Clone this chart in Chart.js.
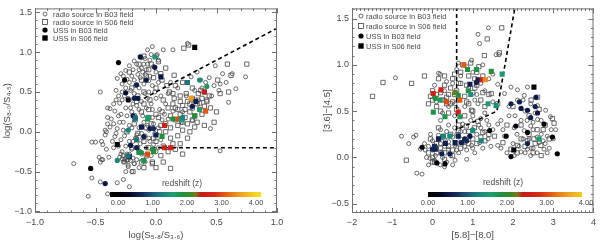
<!DOCTYPE html>
<html><head><meta charset="utf-8">
<script src="https://cdn.jsdelivr.net/npm/chart.js@4.4.1/dist/chart.umd.min.js"></script>
<style>
html,body{margin:0;padding:0;background:#fff;overflow:hidden}
#wrap{position:relative;width:600px;height:241px}
canvas{position:absolute;top:0}
</style></head>
<body><div id="wrap">
<canvas id="c1" width="300" height="241" style="left:0;width:300px;height:241px"></canvas>
<canvas id="c2" width="300" height="241" style="left:300px;width:300px;height:241px"></canvas>
</div>
<script>
// ---------- tick values ----------
const leftXTicks = [-1.0,-0.5,0.0,0.5,1.0];
const leftYTicks = [-1.0,-0.5,0.0,0.5,1.0,1.5];
const rightXTicks = [-2,-1,0,1,2,3,4];
const rightYTicks = [-0.5,0.0,0.5,1.0,1.5];
const zTicks = [0,1,2,3,4];
const seriesLabels = ['radio source in B03 field','radio source in S06 field','USS in B03 field','USS in S06 field'];

// ---------- selection wedges ----------
const leftLacyDiag = [[-0.1,0.42],[1.0,1.3]];
const leftLacyHoriz = [[-0.1,-0.2],[1.0,-0.2]];
const rightStern = [[0.6,1.7],[0.6,0.3],[1.6,0.5],[2.08,1.7]];

// ---------- left panel: log(S8.0/S4.5) vs log(S5.8/S3.6) ----------
const leftB03 = [[-0.56,-0.81],[-0.68,-0.40],[-0.53,-0.58],[-0.46,-0.63],[-0.40,-0.78],[-0.32,-0.64],[-0.22,-0.69],[-0.27,-0.60],[-0.46,0.50],[-0.33,0.52],[-0.32,0.67],[-0.38,0.29],[-0.34,0.26],[-0.40,0.18],[-0.37,0.16],[-0.40,0.10],[-0.42,0.02],[-0.45,-0.12],[-0.50,-0.13],[-0.41,-0.22],[-0.47,-0.32],[-0.44,-0.35],[-0.39,-0.32],[-0.35,-0.20],[-0.34,-0.06],[-0.32,0.04],[-0.30,0.36],[-0.23,0.42],[-0.25,0.77],[-0.29,0.73],[-0.22,0.83],[-0.18,0.89],[-0.12,0.93],[-0.07,1.03],[-0.03,1.07],[0.01,0.97],[0.06,1.03],[0.14,1.03],[0.26,1.11],[0.29,0.69],[0.34,0.75],[0.37,0.65],[0.49,0.83],[0.55,0.73],[0.53,0.60],[0.63,0.73],[0.66,0.54],[0.74,0.69],[0.60,0.37],[0.45,0.04],[0.53,-0.24],[0.30,0.14],[0.21,0.12],[-0.23,-0.44],[-0.25,-0.50],[-0.18,-0.40],[-0.11,-0.36],[-0.44,-0.16],[-0.45,-0.35],[-0.53,-0.13],[-0.41,0.0],[-0.38,0.06],[-0.42,-0.04],[-0.40,0.30],[-0.29,0.22],[-0.30,0.12],[-0.27,0.02],[-0.46,-0.38],[-0.20,-0.50],
[-0.28,0.60],[-0.25,0.55],[-0.22,0.62],[-0.20,0.70],[-0.18,0.65],[-0.15,0.72],[-0.12,0.80],[-0.10,0.85],[-0.08,0.78],[-0.05,0.90],[-0.02,0.82],[0.00,0.75],[-0.26,0.45],[-0.22,0.40],[-0.18,0.48],[-0.14,0.55],[-0.10,0.60],[-0.06,0.50],[-0.03,0.58],[0.02,0.62],[-0.25,0.30],[-0.20,0.25],[-0.16,0.33],[-0.12,0.38],[-0.08,0.30],[-0.04,0.35],[0.00,0.42],[0.03,0.28],[-0.27,0.12],[-0.22,0.08],[-0.18,0.15],[-0.14,0.05],[-0.10,0.12],[-0.06,0.02],[-0.02,0.10],[0.02,0.05],[-0.26,-0.05],[-0.22,-0.12],[-0.17,-0.08],[-0.13,-0.15],[-0.09,-0.05],[-0.05,-0.12],[-0.01,-0.02],[0.04,-0.10],[-0.28,-0.25],[-0.24,-0.30],[-0.20,-0.22],[-0.16,-0.35],[-0.12,-0.28],[-0.08,-0.20],[-0.04,-0.30],[0.00,-0.25],[-0.27,-0.38],[-0.23,-0.42],[-0.19,-0.33],[-0.30,-0.32],[-0.26,-0.35],[-0.21,-0.36],[-0.24,-0.28],[-0.22,-0.32],[-0.18,-0.40],[-0.27,0.70],[-0.24,0.66],[-0.21,0.52],[-0.17,0.58],[-0.13,0.68],[-0.09,0.72],[-0.06,0.64],[-0.16,0.85],[-0.14,0.78],[-0.09,0.92],[-0.04,0.97],[-0.28,0.40],[-0.24,0.20],[-0.19,0.35],[-0.11,0.20],[-0.07,0.42],[-0.29,-0.10],[-0.25,-0.18],[-0.15,-0.20],[-0.11,-0.08],[-0.03,0.18],[0.05,0.15],[0.08,0.35],[0.10,0.48],[0.12,0.62],[0.18,0.55],[0.22,0.25],[0.25,0.45],[0.32,0.52],[0.38,0.55],[0.41,0.62],[0.46,0.45],[0.48,0.58],[0.44,0.68],[0.52,0.52],[0.58,0.62],[0.35,0.40],
[-0.27,-0.30],[-0.25,-0.33],[-0.23,-0.35],[-0.26,-0.38],[-0.28,-0.34],[-0.24,-0.36],[-0.22,-0.28],[-0.29,-0.28],[-0.20,0.05],[-0.16,-0.04],[-0.12,-0.02],[-0.07,0.08],[-0.03,0.28],[-0.14,0.28],[-0.21,0.30],[-0.17,0.42],[-0.09,0.48],[-0.05,0.70],[-0.11,0.75],[-0.19,0.78],[-0.07,0.85],[0.02,0.90],[-0.01,0.50],[0.04,0.45],[-0.28,0.50],[-0.31,0.45],[-0.33,0.40],[-0.35,0.35],[-0.31,0.20],[-0.35,0.10],[-0.33,-0.02],[-0.36,-0.12],[-0.31,-0.18],[-0.19,-0.12],[-0.06,-0.08],[-0.02,-0.16],[0.02,-0.20],[-0.09,-0.38],[-0.14,-0.45],[0.07,0.22],[0.10,0.16],[0.14,0.26]];

const leftS06 = [[0.23,1.05],[0.27,1.09],[0.15,0.71],[0.04,0.73],[0.11,0.50],[0.59,0.85],[0.75,0.85],[0.62,0.71],[0.51,0.65],[0.60,0.50],[0.48,0.12],[0.40,0.08],[0.32,0.06],[0.26,-0.08],[0.22,-0.28],[0.12,-0.46],[-0.19,-0.50],[-0.03,-0.38],[0.42,0.40],[0.37,0.52],[0.53,0.48],[0.45,0.30],[0.50,0.25],
[0.10,0.30],[0.14,0.35],[0.18,0.28],[0.22,0.33],[0.26,0.38],[0.30,0.30],[0.34,0.35],[0.38,0.42],[0.42,0.38],[0.12,0.20],[0.16,0.15],[0.20,0.22],[0.24,0.18],[0.28,0.25],[0.32,0.20],[0.36,0.28],[0.40,0.32],[0.44,0.45],[0.15,0.42],[0.20,0.45],[0.25,0.48],[0.30,0.42],[0.35,0.48],[0.40,0.50],[0.08,0.10],[0.12,0.05],[0.18,0.08],[0.22,0.02],[0.26,0.10],[0.05,0.25],[0.06,0.40],[0.02,0.18],
[-0.20,0.55],[-0.15,0.45],[-0.10,0.50],[-0.05,0.40],[0.00,0.55],[-0.12,0.65],[-0.08,0.70],[-0.02,0.68],[-0.18,0.20],[-0.12,0.25],[-0.06,0.18],[0.00,0.22],[-0.15,-0.02],[-0.08,0.05],[-0.02,-0.08],[0.03,0.00],[-0.20,-0.20],[-0.14,-0.25],[-0.08,-0.30],[-0.02,-0.22],[0.04,-0.30],[-0.03,-0.40],[-0.12,-0.38],[0.06,-0.18],[0.10,-0.25],[0.14,-0.15],[0.18,-0.05],[0.08,0.00],[0.12,-0.08],
[-0.04,0.85],[0.02,0.88],[0.08,0.80],[-0.10,0.95],[0.05,0.65],[0.09,0.58],[-0.22,0.75],[-0.18,0.10],[-0.24,0.00],[-0.10,-0.45],[0.00,-0.45],[0.06,-0.38],[0.16,-0.22],[0.20,-0.15],[0.28,0.00],[0.34,0.12],[0.30,0.55],[0.16,0.58],[0.22,0.62],
[0.16,0.30],[0.20,0.38],[0.24,0.28],[0.28,0.35],[0.32,0.40],[0.36,0.36],[0.22,0.12],[0.30,0.15],[0.38,0.22],[0.14,0.48],[-0.06,0.28],[-0.10,0.35],[-0.16,0.38],[-0.04,0.10],[-0.10,-0.12],[-0.16,-0.10],[-0.06,-0.20],[0.00,-0.12],[0.04,0.08],[-0.14,0.85],[-0.06,0.78],[0.00,0.95]];

// [x, y, redshift]
const leftUSSB03 = [[-0.31,0.87,0.1],[-0.13,0.94,0.5],[-0.01,0.81,0.5],[-0.26,0.65,0.1],[-0.16,0.59,0.6],[-0.08,0.65,0.5],[-0.25,0.49,0.4],[-0.18,0.42,0.6],[-0.15,0.42,0.5],[-0.23,0.40,0.3],[-0.19,0.20,0.6],[-0.17,0.18,1.1],[-0.07,0.18,1.6],[-0.23,0.02,1.3],[-0.12,0.06,0.6],[-0.05,0.04,0.6],[-0.02,0.04,0.7],[-0.16,-0.10,1.2],[-0.10,-0.06,0.6],[-0.21,-0.17,0.5],[-0.16,-0.20,0.6],[-0.23,-0.30,1.2],[-0.32,-0.36,1.3],[-0.12,-0.26,1.8],[-0.54,-0.46,0.1],[-0.42,-0.65,0.5],[-0.03,-0.22,1.9],[0.22,0.18,1.3],[0.30,0.32,0.6],[0.36,0.65,1.4],[0.42,0.57,1.7],[0.36,0.28,1.6],[-0.01,0.94,1.5]];
const leftUSSS06 = [[0.32,1.06,0.0],[0.04,0.69,0.5],[-0.32,-0.16,0.1],[0.26,0.62,1.2],[0.40,0.50,2.5],[0.29,0.42,3.5],[0.33,0.38,0.6],[0.41,0.26,3.1],[0.32,0.20,1.9],[0.18,0.16,3.0],[0.14,0.16,1.9],[0.07,0.08,2.6],[0.05,-0.06,1.9],[0.00,-0.04,0.6],[-0.07,0.16,1.8],[0.07,-0.20,2.6],[0.12,-0.20,2.7],[-0.14,-0.26,1.8],[-0.10,-0.36,1.8],[-0.22,-0.31,0.7],[-0.07,-0.28,3.0],[-0.02,-0.25,1.9],[-0.12,0.06,0.6],[-0.17,0.16,1.3],[0.21,0.15,1.5]];

// ---------- right panel: [3.6]-[4.5] vs [5.8]-[8.0] ----------
const rightB03 = [[-0.92,0.86],[-0.77,0.23],[-0.47,0.22],[-0.41,0.24],[-0.59,0.15],[-0.39,-0.17],[-0.26,-0.18],[0.15,0.91],[1.13,1.33],[1.39,1.40],[1.17,1.23],[1.58,1.11],[1.65,1.11],[1.95,0.76],[2.11,0.73],[2.28,0.67],[2.36,0.76],[2.11,0.62],[2.44,0.58],[2.61,0.56],[2.81,0.51],[2.93,0.44],[2.61,0.41],[2.44,0.34],[2.28,0.29],[2.03,0.32],[1.79,0.23],[1.62,0.13],[1.38,0.20],[1.17,0.16],[0.97,0.13],[0.76,0.16],[0.56,0.13],[0.39,0.09],[0.23,0.06],[0.07,0.02],[-0.06,-0.01],[0.19,-0.08],[0.35,-0.05],[0.56,-0.03],[-0.18,0.08],[-0.30,0.09],[2.77,0.09],[2.65,0.16],[2.85,0.23],[2.36,0.09],[2.44,0.02],[2.20,0.06],[2.03,0.02],[3.06,0.30],[1.62,0.36],[1.30,0.48],[1.13,0.58],[1.79,0.69],[1.62,0.79],[1.50,0.90],[1.25,1.00],[0.97,1.05],[0.64,1.02],[0.56,0.58],[0.31,0.62],[0.19,0.90],
[-0.2,0.15],[-0.1,0.12],[0.0,0.18],[0.1,0.10],[0.2,0.15],[0.3,0.20],[0.4,0.17],[0.5,0.22],[0.6,0.25],[0.7,0.20],[0.8,0.28],[0.9,0.22],[1.0,0.30],[1.1,0.25],[1.2,0.32],[1.3,0.28],[1.4,0.35],[1.5,0.30],[-0.15,0.00],[0.05,-0.03],[0.25,0.00],[0.45,0.02],[0.65,0.05],[0.85,0.08],[1.05,0.05],[1.25,0.10],[1.45,0.12],[0.0,0.08],[0.15,0.24],[0.35,0.28],[0.55,0.32],[0.75,0.36],[0.95,0.40],[0.1,-0.05],[0.3,-0.10],[0.5,-0.08],[-0.1,-0.08],[0.85,-0.02],[1.0,0.45],[1.2,0.42],
[1.7,0.40],[1.9,0.45],[2.0,0.15],[2.1,0.25],[2.2,0.40],[2.3,0.50],[2.4,0.20],[2.5,0.30],[2.5,0.10],[2.6,0.05],[2.7,0.25],[2.7,0.40],[2.8,0.15],[2.9,0.10],[3.0,0.20],[2.3,0.05],[2.15,0.12],[1.85,0.05],[1.7,0.10],[2.55,0.48],[2.25,0.62],[1.9,0.55],[1.75,0.30],[2.95,0.30],[2.35,0.40],
[0.1,0.60],[0.3,0.72],[0.5,0.80],[0.7,0.88],[0.9,0.75],[1.1,0.68],[1.3,0.72],[1.5,0.60],[0.4,0.55],[0.8,0.55],[1.2,0.80],[0.6,0.95],[1.0,0.92],[0.25,0.48],[1.4,0.85],[0.05,0.78],
[0.2,0.30],[0.4,0.35],[0.6,0.08],[0.8,0.12],[1.0,0.10],[-0.05,0.25],[0.3,0.12],[0.7,0.28],[1.15,0.35],[1.35,0.40],[2.05,0.45],[2.25,0.20],[2.45,0.10],[2.6,0.22],[2.75,0.18],[2.85,0.05],[2.5,0.38],[0.55,0.45],[0.35,0.82],[0.85,0.98],[1.05,0.62],[0.2,0.40]];

const rightS06 = [[-1.49,0.66],[-1.23,0.81],[-0.52,0.80],[-0.20,0.88],[-0.65,-0.03],[1.72,1.40],[1.36,1.28],[1.66,1.13],[1.29,1.10],[3.02,0.37],[2.98,0.42],[2.61,0.65],[2.52,0.20],[2.69,0.13],[2.36,0.18],[2.11,0.13],[1.95,0.09],[1.75,0.16],[1.54,0.23],[1.25,0.27],[1.04,0.32],[0.84,0.34],[0.64,0.29],[0.97,0.51],[1.13,0.39],[1.62,0.58],[1.46,0.69],
[0.0,0.62],[-0.1,0.58],[0.1,0.55],[0.2,0.70],[0.3,0.78],[0.4,0.68],[0.5,0.60],[0.6,0.72],[0.7,0.80],[0.8,0.66],[0.9,0.58],[1.0,0.70],[1.1,0.78],[1.2,0.62],[1.3,0.55],[1.4,0.68],[0.2,0.50],[0.4,0.48],[0.6,0.52],[0.8,0.45],[1.0,0.50],[0.3,0.88],[0.5,0.85],[0.7,0.92],[0.9,0.88],[1.1,0.92],[0.0,0.72],[0.15,0.85],[-0.05,0.66],[0.45,0.75],[0.65,0.62],[0.85,0.78],[1.05,0.85],[1.25,0.88],[0.75,1.0],[0.95,1.02],[1.15,0.98],[0.55,0.68],[0.35,0.58],
[-0.1,0.05],[0.0,0.00],[0.1,0.05],[0.2,0.10],[0.3,0.05],[0.4,0.12],[0.5,0.08],[0.6,0.15],[0.7,0.10],[0.8,0.18],[0.9,0.15],[1.0,0.20],[1.1,0.15],[1.2,0.22],[1.3,0.18],[0.0,-0.05],[0.05,-0.05],[0.15,0.20],[0.25,0.22],[0.45,0.25],[0.65,0.35],[-0.05,0.20],[0.15,0.32],
[2.0,0.55],[2.2,0.35],[2.4,0.45],[2.6,0.30],[2.8,0.35],[2.3,0.12],[2.5,0.05],[2.7,0.02],[2.9,0.20],[2.2,0.20],[1.85,0.35],[2.65,0.52],[2.45,0.62],
[0.25,0.62],[0.45,0.58],[0.65,0.80],[0.85,0.60],[1.05,0.75],[1.25,0.70],[0.1,0.68],[0.35,0.65],[0.55,0.90],[0.9,0.28],[0.5,0.02],[0.3,-0.02],[0.1,0.15],[1.4,0.25],[2.4,0.25],[2.75,0.30],[2.1,0.05],[2.55,0.15]];

const rightUSSB03 = [[-0.26,0.11,0.1],[0.11,-0.06,0.1],[0.43,0.04,0.6],[0.72,0.16,0.6],[0.80,0.20,0.6],[0.93,0.23,0.5],[0.85,0.18,0.7],[1.42,0.29,0.1],[1.83,0.23,0.1],[1.95,0.58,0.6],[2.07,0.34,0.1],[2.20,0.53,0.5],[2.16,0.60,0.6],[2.36,0.51,0.5],[2.44,0.43,0.6],[2.57,0.65,0.5],[2.55,0.55,0.6],[2.61,0.48,0.5],[2.77,0.36,0.1],[2.98,0.22,0.1],[3.10,0.04,0.1],[1.95,0.01,0.1],[2.36,0.27,0.1],[2.36,0.15,0.6],[0.23,0.04,0.6],[0.0,0.09,0.6],[0.31,-0.07,0.1],[1.09,0.81,0.6]];
const rightUSSS06 = [[0.02,0.69,2.6],[0.21,0.73,2.6],[0.07,0.64,1.9],[0.19,0.62,1.7],[0.35,0.60,3.0],[0.02,0.49,1.8],[0.31,0.44,1.8],[0.27,0.23,1.3],[0.43,0.23,1.4],[0.56,0.70,2.2],[0.64,0.67,1.9],[0.68,0.62,3.1],[0.64,0.49,2.6],[0.68,0.44,1.7],[0.78,1.00,3.1],[0.87,0.95,1.9],[1.09,0.95,1.8],[1.13,0.84,0.6],[1.23,0.84,2.6],[1.31,0.84,3.4],[1.46,0.93,1.9],[0.89,0.72,1.8],[0.95,0.68,1.4],[1.73,0.90,1.5],[1.58,0.56,1.4],[1.38,0.58,1.6],[1.00,0.29,1.4],[1.21,0.18,1.3],[0.56,0.16,0.6],[0.64,0.23,0.6],[0.15,0.20,0.6],[0.07,0.09,0.6],[0.93,0.79,0.6],[2.02,0.08,0.0],[2.52,0.76,0.0],[2.65,0.20,1.6],[0.05,0.12,0.7],[0.32,0.15,0.6]];

// ---------- redshift colour table ----------
const zStops = [[0.0,'#000000'],[0.3,'#05081a'],[0.5,'#0c1642'],[0.7,'#142a5a'],[0.9,'#1b4a70'],[1.1,'#1d6a7c'],[1.35,'#1a8a7c'],[1.6,'#1e9e70'],[1.85,'#1f9040'],[2.1,'#3a8a2a'],[2.25,'#7a7a18'],[2.4,'#c41818'],[2.8,'#d82818'],[3.1,'#e25a10'],[3.5,'#ec9a20'],[4.0,'#f4d820'],[4.4,'#f8ea30']];
function hexRgb(h){return [1,3,5].map(i=>parseInt(h.slice(i,i+2),16));}
function zColor(z){
  if (z <= zStops[0][0]) return zStops[0][1];
  for (let i=1;i<zStops.length;i++){
    if (z <= zStops[i][0]){
      const [z0,c0]=zStops[i-1],[z1,c1]=zStops[i];
      const t=(z-z0)/(z1-z0), a=hexRgb(c0), b=hexRgb(c1);
      return 'rgb('+a.map((v,k)=>Math.round(v+(b[k]-v)*t)).join(',')+')';
    }
  }
  return zStops[zStops.length-1][1];
}

const FONT = '"Liberation Sans", Arial, sans-serif';
const TXT = '#4a4a4a';
const fmt = (v,d) => (v < -1e-9 ? '\u2212' : '') + Math.abs(v).toFixed(d);
const pts = a => a.map(p => ({x:p[0], y:p[1]}));

// ---------- plugin: IDL style frame, minor ticks, colour bar, legend ----------
const idlPlugin = {
  id: 'idl',
  afterDatasetsDraw(chart, args, o) {
    const {ctx, chartArea: a, scales: {x, y}} = chart;
    ctx.save();
    ctx.strokeStyle = '#707070'; ctx.lineWidth = 1;
    ctx.strokeRect(a.left + 0.5, a.top + 0.5, a.right - a.left - 1, a.bottom - a.top - 1);
    ctx.beginPath();
    const tickX = (v, len) => { const p = Math.round(x.getPixelForValue(v)) + 0.5; ctx.moveTo(p, a.bottom); ctx.lineTo(p, a.bottom - len); ctx.moveTo(p, a.top); ctx.lineTo(p, a.top + len); };
    const tickY = (v, len) => { const p = Math.round(y.getPixelForValue(v)) + 0.5; ctx.moveTo(a.left, p); ctx.lineTo(a.left + len, p); ctx.moveTo(a.right, p); ctx.lineTo(a.right - len, p); };
    for (let i = Math.ceil(x.min / o.minorX); i * o.minorX <= x.max + 1e-9; i++) tickX(i * o.minorX, 2.5);
    for (let i = Math.ceil(y.min / o.minorY); i * o.minorY <= y.max + 1e-9; i++) tickY(i * o.minorY, 2.5);
    o.xMajor.forEach(v => tickX(v, 5));
    o.yMajor.forEach(v => tickY(v, 5));
    ctx.stroke();

    // colour bar
    const cb = o.cbar;
    for (let px = cb.x0; px < cb.x1; px++) {
      const z = (px + 0.5 - cb.zeroPx) / cb.pxPerZ;
      ctx.fillStyle = zColor(z);
      ctx.fillRect(px, cb.y, 1, cb.h);
    }
    ctx.fillStyle = TXT;
    ctx.textAlign = 'center'; ctx.textBaseline = 'middle';
    ctx.font = '7.5px ' + FONT;
    zTicks.forEach(z => ctx.fillText(z.toFixed(2), cb.zeroPx + z * cb.pxPerZ, cb.labelY));
    ctx.font = '8.5px ' + FONT;
    ctx.fillText('redshift (z)', cb.titleX, cb.titleY);

    // legend
    const lg = o.legend;
    ctx.textAlign = 'left';
    ctx.font = '7.5px ' + FONT;
    seriesLabels.forEach((lab, i) => {
      const cy = lg.y0 + i * lg.dy, cx = lg.sx;
      ctx.beginPath();
      if (i === 0) { ctx.strokeStyle = '#444'; ctx.lineWidth = 0.8; ctx.arc(cx, cy, 2, 0, Math.PI * 2); ctx.stroke(); }
      if (i === 1) { ctx.strokeStyle = '#444'; ctx.lineWidth = 0.8; ctx.strokeRect(cx - 2.5, cy - 2.5, 5, 5); }
      if (i === 2) { ctx.fillStyle = '#000'; ctx.arc(cx, cy, 2.6, 0, Math.PI * 2); ctx.fill(); }
      if (i === 3) { ctx.fillStyle = '#000'; ctx.fillRect(cx - 2.7, cy - 2.7, 5.4, 5.4); }
      ctx.fillStyle = TXT;
      ctx.fillText(lab, lg.tx, cy + 0.5);
    });
    ctx.restore();
  }
};

function makePanel(id, P) {
  const openStyle = {backgroundColor: 'rgba(0,0,0,0)', borderColor: '#464646', borderWidth: 0.8};
  const datasets = [
    Object.assign({label: seriesLabels[2], data: pts(P.ussB03), pointStyle: 'circle', pointRadius: 2.6, borderWidth: 0,
      backgroundColor: P.ussB03.map(p => zColor(p[2])), order: 0}),
    Object.assign({label: seriesLabels[3], data: pts(P.ussS06), pointStyle: 'rect', pointRadius: 3.6, borderWidth: 0,
      backgroundColor: P.ussS06.map(p => zColor(p[2])), order: 0}),
    ...P.lines.map(l => ({label: 'wedge', data: pts(l), showLine: true, pointRadius: 0, borderColor: '#000',
      borderWidth: 1.6, borderDash: [4, 3], fill: false, order: 2})),
    Object.assign({label: seriesLabels[0], data: pts(P.b03), pointStyle: 'circle', pointRadius: 2, order: 4}, openStyle),
    Object.assign({label: seriesLabels[1], data: pts(P.s06), pointStyle: 'rect', pointRadius: 3, order: 3}, openStyle)
  ];
  const tickFont = {family: FONT, size: 9};
  new Chart(document.getElementById(id), {
    type: 'scatter',
    data: {datasets},
    options: {
      responsive: false, animation: false, devicePixelRatio: 1, events: [],
      layout: {padding: P.pad},
      plugins: {legend: {display: false}, tooltip: {enabled: false},
        idl: {minorX: 0.1, minorY: 0.1, xMajor: P.xTicks, yMajor: P.yTicks, cbar: P.cbar, legend: P.legend}},
      scales: {
        x: {type: 'linear', min: P.xr[0], max: P.xr[1],
          afterBuildTicks: s => { s.ticks = P.xTicks.map(v => ({value: v})); },
          afterFit: s => { s.height = 28; },
          ticks: {callback: v => fmt(v, P.xDec), color: TXT, font: tickFont, padding: 4, autoSkip: false, maxRotation: 0},
          grid: {display: false, drawTicks: false}, border: {display: false},
          title: {display: true, text: P.xTitle, color: TXT, font: {family: FONT, size: 9.5}, padding: {top: 0, bottom: 0}}},
        y: {type: 'linear', min: P.yr[0], max: P.yr[1],
          afterBuildTicks: s => { s.ticks = P.yTicks.map(v => ({value: v})); },
          afterFit: s => { s.width = P.yWidth; },
          ticks: {callback: v => fmt(v, 1), color: TXT, font: tickFont, padding: 3, autoSkip: false},
          grid: {display: false, drawTicks: false}, border: {display: false},
          title: {display: true, text: P.yTitle, color: TXT, font: {family: FONT, size: 9.5}, padding: {top: 0, bottom: 0}}}
      }
    },
    plugins: [idlPlugin]
  });
}

makePanel('c1', {
  b03: leftB03, s06: leftS06, ussB03: leftUSSB03, ussS06: leftUSSS06,
  lines: [leftLacyDiag, leftLacyHoriz],
  xr: [-1, 1], yr: [-1.02, 1.55], xTicks: leftXTicks, yTicks: leftYTicks, xDec: 1,
  xTitle: 'log(S\u2085.\u2088/S\u2083.\u2086)', yTitle: 'log(S\u2088.\u2080/S\u2084.\u2085)',
  pad: {left: 2, right: 23, top: 2, bottom: 0}, yWidth: 33,
  cbar: {x0: 110, x1: 261, zeroPx: 118, pxPerZ: 34.5, y: 192, h: 5, labelY: 203, titleX: 182, titleY: 184},
  legend: {sx: 45, tx: 53, y0: 14, dy: 8}
});
makePanel('c2', {
  b03: rightB03, s06: rightS06, ussB03: rightUSSB03, ussS06: rightUSSS06,
  lines: [rightStern],
  xr: [-2, 4], yr: [-0.6, 1.61], xTicks: rightXTicks, yTicks: rightYTicks, xDec: 0,
  xTitle: '[5.8]\u2212[8.0]', yTitle: '[3.6]\u2212[4.5]',
  pad: {left: 22, right: 5, top: 2, bottom: 0}, yWidth: 30,
  cbar: {x0: 128, x1: 282, zeroPx: 128, pxPerZ: 39.5, y: 192, h: 5, labelY: 203, titleX: 203, titleY: 183},
  legend: {sx: 61, tx: 66, y0: 16, dy: 10}
});
</script>
</body></html>
